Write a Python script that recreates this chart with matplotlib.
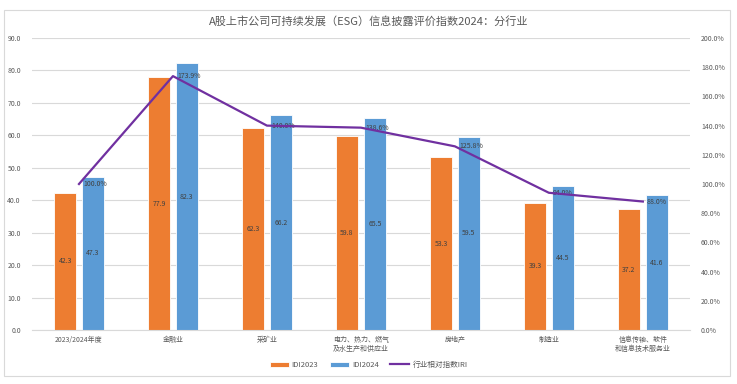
import numpy as np
import matplotlib.pyplot as plt
from matplotlib.patches import Rectangle

plt.rcParams['font.family'] = ['Noto Sans CJK SC', 'DejaVu Sans']

categories = ['2023/2024年度', '金融业', '采矿业', '电力、热力、燃气\n及水生产和供应业',
              '房地产', '制造业', '信息传输、软件\n和信息技术服务业']
idi2023 = [42.3, 77.9, 62.3, 59.8, 53.3, 39.3, 37.2]
idi2024 = [47.3, 82.3, 66.2, 65.5, 59.5, 44.5, 41.6]
iri = [100.0, 173.9, 140.0, 138.6, 125.8, 94.0, 88.0]

orange = '#ED7D31'
blue = '#5B9BD5'
purple = '#7030A0'
txt = '#595959'

fig = plt.figure(figsize=(7.37, 3.84), dpi=100)
ax = fig.add_axes([0.0434, 0.1406, 0.8926, 0.7604])
ax2 = ax.twinx()

x = np.arange(len(categories))
w = 0.23
off = 0.148
b1 = ax.bar(x - off, idi2023, w, color=orange, edgecolor='white', linewidth=0.6, label='IDI2023', zorder=2)
b2 = ax.bar(x + off, idi2024, w, color=blue, edgecolor='white', linewidth=0.6, label='IDI2024', zorder=2)
for bars, vals in ((b1, idi2023), (b2, idi2024)):
    for r, v in zip(bars, vals):
        ax.text(r.get_x() + r.get_width() / 2, v / 2, f'{v:.1f}', ha='center', va='center',
                fontsize=5, color='#404040', zorder=3)

ax.set_ylim(0, 90)
ax.set_yticks(np.arange(0, 91, 10))
ax.set_yticklabels([f'{v:.1f}' for v in np.arange(0, 91, 10)])
ax.set_xlim(-0.5, len(categories) - 0.5)
ax.set_xticks(x)
ax.set_xticklabels(categories, fontsize=5.5, color=txt, linespacing=1.3)
ax.grid(axis='y', color='#D9D9D9', linewidth=0.8, zorder=0)
ax.set_axisbelow(True)

line, = ax2.plot(x, iri, color=purple, linewidth=1.6, label='行业相对指数IRI', zorder=4)
for xi, v in zip(x, iri):
    ax2.annotate(f'{v:.1f}%', (xi, v), xytext=(3, 0), textcoords='offset points',
                 ha='left', va='center', fontsize=5, color='#404040')
ax2.set_ylim(0, 200)
ax2.set_yticks(np.arange(0, 201, 20))
ax2.set_yticklabels([f'{v:.1f}%' for v in np.arange(0, 201, 20)])

for a in (ax, ax2):
    for s in a.spines.values():
        s.set_visible(False)
    a.tick_params(length=0, labelsize=5, labelcolor=txt)
ax.spines['bottom'].set_visible(True)
ax.spines['bottom'].set_color('#D9D9D9')
ax.tick_params(axis='y', pad=8)
ax2.tick_params(axis='y', pad=8)
ax.tick_params(axis='x', pad=4)

ax.set_zorder(ax2.get_zorder() + 1)
ax.patch.set_visible(False)
ax2.set_zorder(0)
# put line on top of bars
ax2.set_zorder(2)
ax.set_zorder(1)
ax.patch.set_visible(True)
ax2.patch.set_visible(False)

fig.text(0.5, 0.945, 'A股上市公司可持续发展（ESG）信息披露评价指数2024：分行业',
         ha='center', va='center', fontsize=8, color=txt)

fig.legend(handles=[b1, b2, line], loc='center', bbox_to_anchor=(0.5, 0.05), ncol=3,
           frameon=False, fontsize=5.5, labelcolor=txt, handlelength=2.5, handleheight=0.6,
           columnspacing=1.5, handletextpad=0.4)

fig.patches.append(Rectangle((0.006, 0.02), 0.985, 0.955, transform=fig.transFigure,
                             fill=False, edgecolor='#D9D9D9', linewidth=0.8))

fig.savefig('out.png', dpi=100)
